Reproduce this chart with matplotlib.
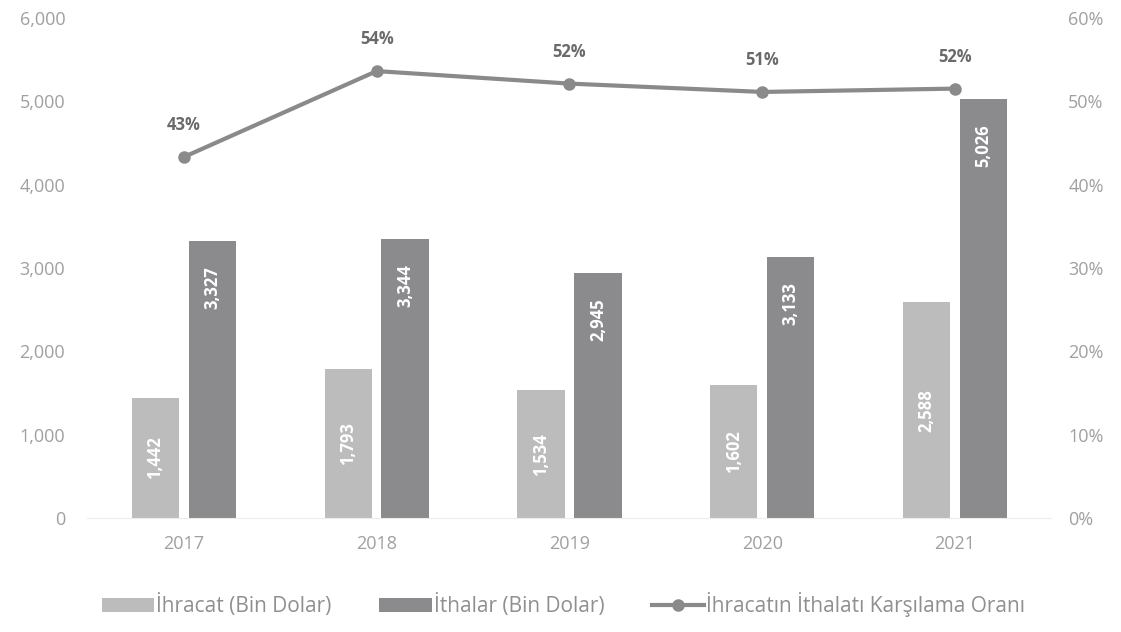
import matplotlib
matplotlib.use("Agg")
import matplotlib.pyplot as plt
from matplotlib.ticker import FuncFormatter
import numpy as np

years = ["2017", "2018", "2019", "2020", "2021"]
ihracat = [1442, 1793, 1534, 1602, 2588]
ithalat = [3327, 3344, 2945, 3133, 5026]
oran = [43.3, 53.6, 52.1, 51.1, 51.5]
oran_labels = ["43%", "54%", "52%", "51%", "52%"]

plt.rcParams['font.family'] = ['Open Sans', 'DejaVu Sans']

fig = plt.figure(figsize=(11.21, 6.32), dpi=100)
ax = fig.add_axes([0.078, 0.18, 0.86, 0.792])
ax2 = ax.twinx()

x = np.arange(len(years))
w = 0.245
c_ihr = "#bcbcbc"
c_ith = "#8b8b8e"
c_line = "#8a8a8a"
tick_c = "#a0a0a0"

b1 = ax.bar(x - w / 2 - 0.025, ihracat, w, color=c_ihr, label="İhracat (Bin Dolar)")
b2 = ax.bar(x + w / 2 + 0.025, ithalat, w, color=c_ith, label="İthalar (Bin Dolar)")

for rect, v in zip(b1, ihracat):
    ax.text(rect.get_x() + rect.get_width() / 2, v / 2, f"{v:,}", rotation=90,
            ha="center", va="center", color="white", fontsize=12, fontweight="bold")
for rect, v in zip(b2, ithalat):
    ax.text(rect.get_x() + rect.get_width() / 2, v - 560, f"{v:,}", rotation=90,
            ha="center", va="center", color="white", fontsize=12, fontweight="bold")

ln, = ax2.plot(x, oran, color=c_line, lw=3, marker="o", markersize=8,
               label="İhracatın İthalatı Karşılama Oranı")
for xi, yi, lab in zip(x, oran, oran_labels):
    ax2.text(xi, yi + 3.8, lab, ha="center", va="center", color="#6a6a6a",
             fontsize=12, fontweight="bold")

ax.set_xlim(-0.5, len(years) - 0.5)
ax.set_ylim(0, 6000)
ax.set_yticks(np.arange(0, 6001, 1000))
ax.yaxis.set_major_formatter(FuncFormatter(lambda v, p: f"{int(v):,}"))
ax2.set_ylim(0, 60)
ax2.set_yticks(np.arange(0, 61, 10))
ax2.yaxis.set_major_formatter(FuncFormatter(lambda v, p: f"{int(v)}%"))
ax.set_xticks(x)
ax.set_xticklabels(years)

for a in (ax, ax2):
    for s in a.spines.values():
        s.set_visible(False)
    a.tick_params(length=0, colors=tick_c, labelsize=13)
ax.spines["bottom"].set_visible(True)
ax.spines["bottom"].set_color("#ececec")
ax.tick_params(axis="y", pad=16)
ax2.tick_params(axis="y", pad=12)
ax.tick_params(axis="x", pad=12)

handles = [b1, b2, ln]
labels = [h.get_label() for h in handles]
leg = fig.legend(handles, labels, loc="lower left", bbox_to_anchor=(0.078, 0.0),
                 ncol=3, frameon=False, fontsize=15, handlelength=2.5,
                 columnspacing=2.3, handletextpad=0.1, borderaxespad=0.3)
for t in leg.get_texts():
    t.set_color("#8f8f8f")

fig.savefig("out.png", dpi=100, facecolor="white")
